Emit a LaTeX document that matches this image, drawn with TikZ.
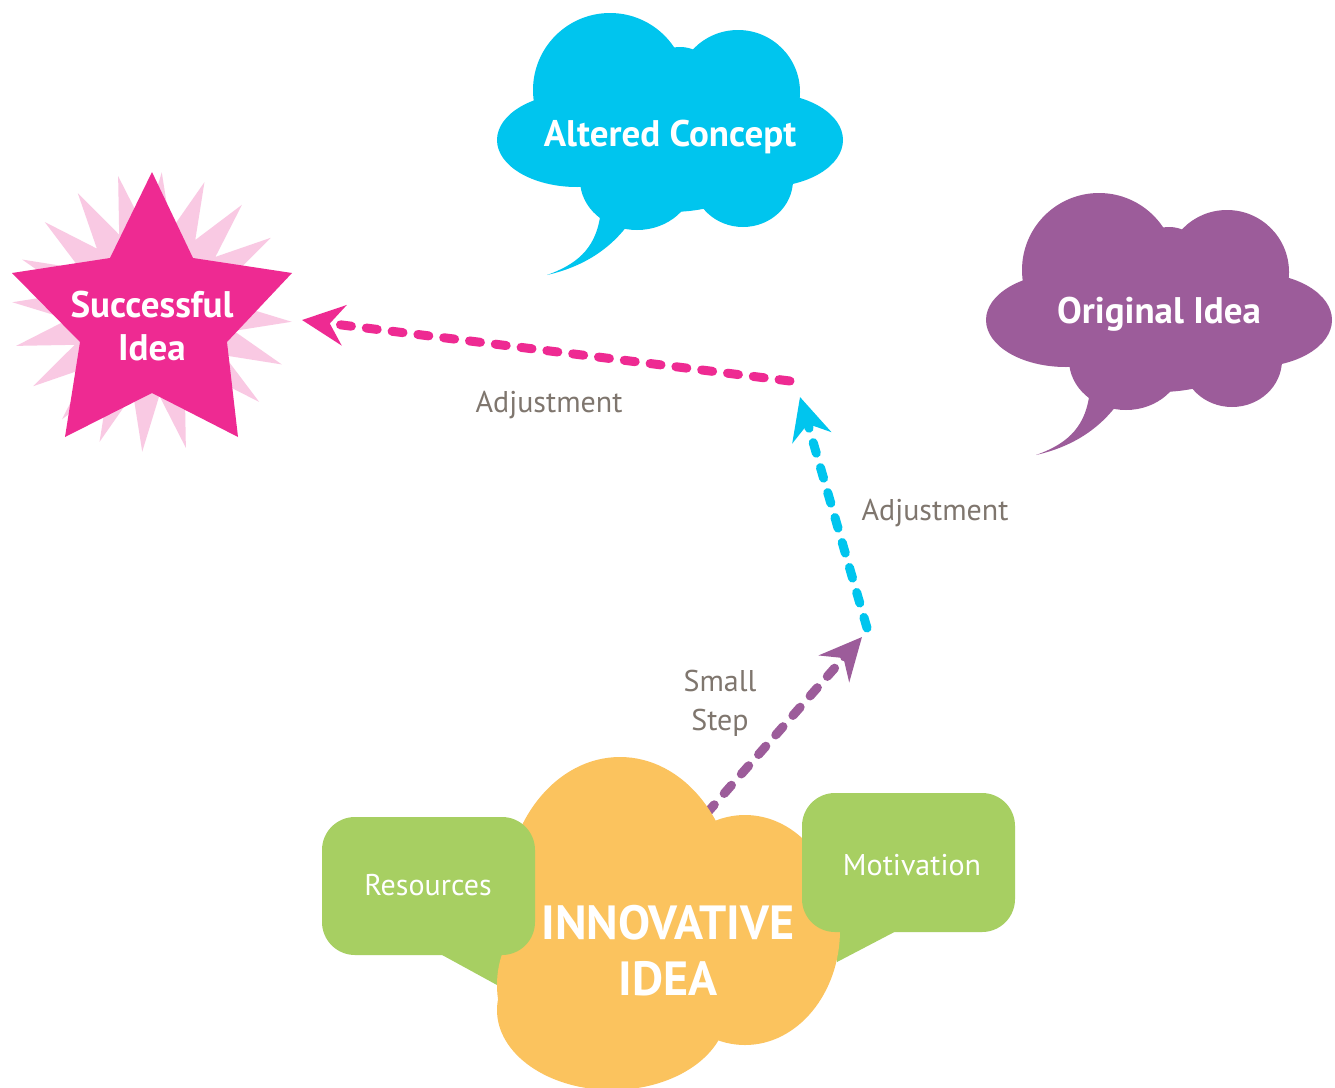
\documentclass[tikz,border=0pt]{standalone}
\usepackage{fontspec}
\setmainfont{PT Sans}
\usepackage{xcolor}
\usetikzlibrary{arrows.meta}

\definecolor{starpink}{HTML}{EE2A92}
\definecolor{burstpink}{HTML}{F9C9E3}
\definecolor{conceptblue}{HTML}{00C5EE}
\definecolor{ideapurple}{HTML}{9C5C9A}
\definecolor{innovorange}{HTML}{FBC35E}
\definecolor{boxgreen}{HTML}{A7CF62}
\definecolor{labelgray}{HTML}{7F766E}

\tikzset{
  bigtext/.style={text=white, font=\bfseries\fontsize{37}{43}\selectfont, align=center},
  innovtext/.style={text=white, font=\bfseries\fontsize{48}{56}\selectfont, align=center},
  boxtext/.style={text=white, font=\fontsize{30}{36}\selectfont},
  steptext/.style={text=labelgray, font=\fontsize{30}{39}\selectfont, align=center},
  flow/.style={line width=9pt, line cap=round, dash pattern=on 11pt off 15pt,
    -{Stealth[length=42pt,width=40pt,inset=14pt]}},
}

% thought cloud: colour, centre x, centre y
\newcommand{\thoughtcloud}[3]{%
  \begin{scope}[shift={(#2,#3)}]
    \fill[#1] (-60,-32) circle (77);
    \fill[#1] (68,-30) circle (62);
    \fill[#1] (-93,18) ellipse [x radius=80, y radius=47];
    \fill[#1] (95,18) ellipse [x radius=78, y radius=47];
    \fill[#1] (-33,58) ellipse [x radius=57, y radius=50];
    \fill[#1] (73,58) ellipse [x radius=50, y radius=47];
    \fill[#1] (0,10) ellipse [x radius=120, y radius=80];
    \fill[#1] (10,-50) ellipse [x radius=30, y radius=25];
    % tail
    \fill[#1] (-70,95) .. controls (-75,128) and (-95,143) .. (-123,153)
      .. controls (-88,145) and (-60,128) .. (-40,100) -- cycle;
  \end{scope}
}

\begin{document}
\begin{tikzpicture}[x={(1pt,0)}, y={(0,-1pt)}]

\useasboundingbox (0,0) rectangle (1335,1087);
\fill[white] (0,0) rectangle (1335,1087);

% star
\fill[burstpink] plot[samples at={0,...,39}, variable=\k]
  ({152+(112+28*cos(180*\k))*cos(9*\k+4)}, {312+(112+28*cos(180*\k))*sin(9*\k+4)}) -- cycle;
\fill[starpink] (152,172) -- (193,258) -- (292,273) -- (227,342) -- (238,437)
  -- (152,393) -- (65,437) -- (80,342) -- (12,273) -- (110,258) -- cycle;
\node[bigtext] (success) at (152,326) {Successful\\Idea};

% clouds
\thoughtcloud{conceptblue}{670}{122}
\node[bigtext] (altered) at (670,137) {Altered Concept};

\thoughtcloud{ideapurple}{1159}{302}
\node[bigtext] (original) at (1159,314) {Original Idea};

% path of the idea
\coordinate (ideaTop) at (707,813);
\coordinate (stepEnd) at (862,637);
\coordinate (turnA) at (867,628);
\coordinate (turnB) at (800,397);
\coordinate (turnC) at (790,381);
\coordinate (starTip) at (302,320);

\draw[flow, ideapurple] (ideaTop) -- (stepEnd);
\draw[flow, conceptblue] (turnA) -- (turnB);
\draw[flow, starpink] (turnC) -- (starTip);

\node[steptext] (adjA) at (549,405) {Adjustment};
\node[steptext] (adjB) at (935,513) {Adjustment};
\node[steptext] (small) at (720,703) {Small\\Step};

% green tails behind the cloud
\fill[boxgreen] (433,950) -- (497,985) -- (530,950) -- cycle;
\fill[boxgreen] (902,928) -- (837,962) -- (830,920) -- cycle;

% innovative idea
\fill[innovorange] (620,900) ellipse [x radius=115, y radius=143];
\fill[innovorange] (745,930) ellipse [x radius=95, y radius=115];
\fill[innovorange] (612,1010) ellipse [x radius=115, y radius=80];
\fill[innovorange] (590,985) ellipse [x radius=93, y radius=95];
\fill[innovorange] (680,950) ellipse [x radius=100, y radius=80];
\node[innovtext] (innov) at (668,951) {INNOVATIVE\\IDEA};

% green boxes
\fill[boxgreen, rounded corners=33pt] (322,817) rectangle (535,955);
\node[boxtext] (resources) at (428,885) {Resources};
\fill[boxgreen, rounded corners=33pt] (802,793) rectangle (1015,932);
\node[boxtext] (motivation) at (912,865) {Motivation};

\end{tikzpicture}
\end{document}
